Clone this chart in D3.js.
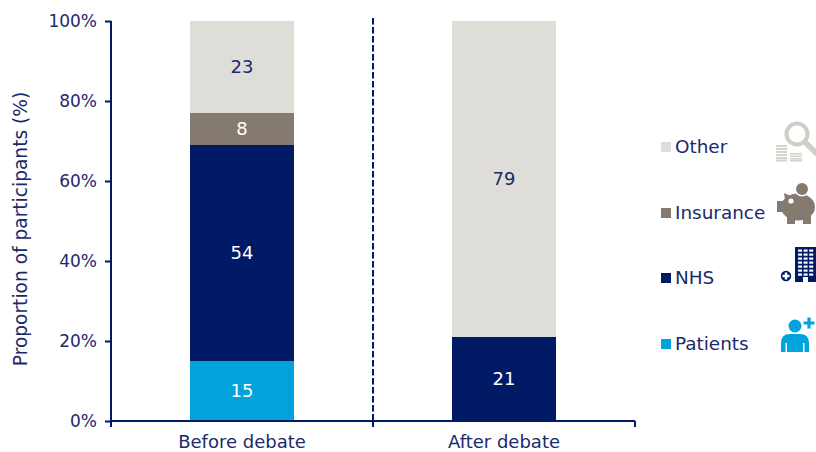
<!DOCTYPE html>
<html>
<head>
<meta charset="utf-8">
<script src="https://cdn.jsdelivr.net/npm/d3@7/dist/d3.min.js"></script>
<style>
html,body{margin:0;padding:0;background:#fff;}
svg{display:block;}
text{font-family:"DejaVu Sans",Verdana,sans-serif;}
</style>
</head>
<body>
<svg id="chart" width="816" height="452"></svg>
<script>
const categories = ["Before debate", "After debate"];
const seriesNames = ["Patients", "NHS", "Insurance", "Other"];
const patients = [15, 0];
const nhs = [54, 21];
const insurance = [8, 0];
const other = [23, 79];
const yTicks = [0, 20, 40, 60, 80, 100];

const navy = "#001a66";
const inkText = "#1b2a6b";
const colors = { Patients: "#00a3dc", NHS: "#001a66", Insurance: "#857a70", Other: "#deddd8" };
const labelColors = { Patients: "#ffffff", NHS: "#ffffff", Insurance: "#ffffff", Other: "#1b2a6b" };

const svg = d3.select("#chart");
const x = d3.scaleBand().domain(categories).range([111, 635]).paddingInner(0).paddingOuter(0);
const y = d3.scaleLinear().domain([0, 100]).range([421, 21]);
const barWidth = 104;

const rows = categories.map((c, i) => ({
  category: c, Patients: patients[i], NHS: nhs[i], Insurance: insurance[i], Other: other[i]
}));
const stacked = d3.stack().keys(seriesNames)(rows);

// Stacked segments
const layers = svg.append("g").selectAll("g").data(stacked).join("g").attr("fill", d => colors[d.key]);
layers.selectAll("rect").data(d => d.filter(s => s[1] > s[0]))
  .join("rect")
  .attr("x", d => x(d.data.category) + (x.bandwidth() - barWidth) / 2)
  .attr("width", barWidth)
  .attr("y", d => y(d[1]))
  .attr("height", d => y(d[0]) - y(d[1]));

// Segment value labels
stacked.forEach(layer => {
  svg.append("g").selectAll("text").data(layer.filter(s => s[1] > s[0])).join("text")
    .attr("x", d => x(d.data.category) + x.bandwidth() / 2)
    .attr("y", d => y((d[0] + d[1]) / 2))
    .attr("dy", "0.33em")
    .attr("text-anchor", "middle")
    .attr("font-size", 18)
    .attr("fill", labelColors[layer.key])
    .text(d => d[1] - d[0]);
});

// Y axis
const yAxis = d3.axisLeft(y).tickValues(yTicks).tickFormat(d => d + "%").tickSize(6).tickPadding(8);
const gy = svg.append("g").attr("transform", "translate(111,0)").call(yAxis);
gy.select(".domain").attr("stroke", navy).attr("stroke-width", 2).attr("d", "M0,21V421");
gy.selectAll(".tick line").attr("stroke", navy).attr("stroke-width", 2);
gy.selectAll(".tick text").attr("fill", inkText).attr("font-size", 17).attr("font-family", '"DejaVu Sans"');

// X axis with boundary ticks between the two groups
const xAxis = d3.axisBottom(x).tickSize(0).tickPadding(14);
const gx = svg.append("g").attr("transform", "translate(0,421)").call(xAxis);
gx.select(".domain").attr("stroke", navy).attr("stroke-width", 2).attr("d", "M110,0H635");
gx.selectAll(".tick text").attr("fill", inkText).attr("font-size", 18).attr("font-family", '"DejaVu Sans"');
gx.selectAll(".bound").data(x.range().concat(x(categories[1]))).join("line")
  .attr("class", "bound")
  .attr("x1", d => d).attr("x2", d => d)
  .attr("y1", 0).attr("y2", 6)
  .attr("stroke", navy).attr("stroke-width", 2);

// Divider between the two groups
svg.append("line")
  .attr("x1", x(categories[1])).attr("x2", x(categories[1]))
  .attr("y1", y(100) - 3).attr("y2", y(0))
  .attr("stroke", navy).attr("stroke-width", 2).attr("stroke-dasharray", "6.5 2.5");

// Y axis title
svg.append("text")
  .attr("transform", "translate(27,229) rotate(-90)")
  .attr("text-anchor", "middle")
  .attr("font-size", 18.6)
  .attr("fill", inkText)
  .text("Proportion of participants (%)");

// Legend
const legendNames = ["Other", "Insurance", "NHS", "Patients"];
const legendRows = [147, 213, 278, 344];
const legend = svg.append("g").selectAll("g").data(legendNames).join("g")
  .attr("transform", (d, i) => `translate(661,${legendRows[i]})`);
legend.append("rect").attr("x", 0).attr("y", -5).attr("width", 10).attr("height", 10)
  .attr("fill", d => colors[d]);
legend.append("text").attr("x", 14).attr("dy", "0.31em").attr("font-size", 18.4)
  .attr("fill", inkText).text(d => d);

// Legend pictograms
const icons = svg.append("g");

// Magnifier over a page of text
const lens = icons.append("g");
lens.append("circle").attr("cx", 797).attr("cy", 134).attr("r", 10.5)
  .attr("fill", "none").attr("stroke", "#cfcdc5").attr("stroke-width", 4);
lens.append("line").attr("x1", 805).attr("y1", 142).attr("x2", 817).attr("y2", 154)
  .attr("stroke", "#cfcdc5").attr("stroke-width", 5.5);
[145, 148, 151, 154, 157, 159.5].forEach(v => {
  lens.append("rect").attr("x", 776).attr("y", v).attr("width", 11).attr("height", 2).attr("fill", "#d5d3cc");
});
[153, 155.5, 158, 160].forEach(v => {
  lens.append("rect").attr("x", 790).attr("y", v).attr("width", 12).attr("height", 1.6).attr("fill", "#d5d3cc");
});

// Piggy bank with a coin
const pig = icons.append("g").attr("fill", "#857a70");
pig.append("path").attr("d", "M784,193 L793,197 L786,206 Z");
pig.append("ellipse").attr("cx", 798).attr("cy", 207).attr("rx", 17).attr("ry", 13.5);
pig.append("rect").attr("x", 777).attr("y", 201).attr("width", 8).attr("height", 11);
pig.append("rect").attr("x", 787).attr("y", 213).attr("width", 8).attr("height", 11);
pig.append("rect").attr("x", 803).attr("y", 213).attr("width", 8).attr("height", 11);
pig.append("circle").attr("cx", 802).attr("cy", 189).attr("r", 7.5).attr("fill", "#ffffff");
pig.append("circle").attr("cx", 802).attr("cy", 189).attr("r", 6);
pig.append("circle").attr("cx", 791).attr("cy", 201).attr("r", 2.6).attr("fill", "#ffffff");

// Hospital block with a medical cross
const hosp = icons.append("g");
hosp.append("rect").attr("x", 795).attr("y", 247).attr("width", 21).attr("height", 35).attr("fill", navy);
d3.range(7).forEach(r => d3.range(3).forEach(c => {
  hosp.append("rect").attr("x", 798 + c * 5.6).attr("y", 249.5 + r * 4)
    .attr("width", 4).attr("height", 2.2).attr("fill", "#ffffff");
}));
hosp.append("rect").attr("x", 803).attr("y", 277).attr("width", 5).attr("height", 5).attr("fill", "#ffffff");
hosp.append("circle").attr("cx", 786).attr("cy", 276).attr("r", 5.2).attr("fill", navy);
hosp.append("path").attr("d", "M782.5,276H789.5M786,272.5V279.5").attr("stroke", "#ffffff").attr("stroke-width", 2.4);

// Patient figure with a plus sign
const person = icons.append("g").attr("fill", "#00a3dc");
person.append("circle").attr("cx", 795).attr("cy", 326).attr("r", 6.5);
person.append("path").attr("d", "M781,352V343Q781,334 790,334H800Q809,334 809,343V352H804.5V343H803V352H787V343H785.5V352Z");
person.append("path").attr("d", "M809,317.5V328.5M803.5,323H814.5").attr("stroke", "#00a3dc").attr("stroke-width", 3.2);
</script>
</body>
</html>
